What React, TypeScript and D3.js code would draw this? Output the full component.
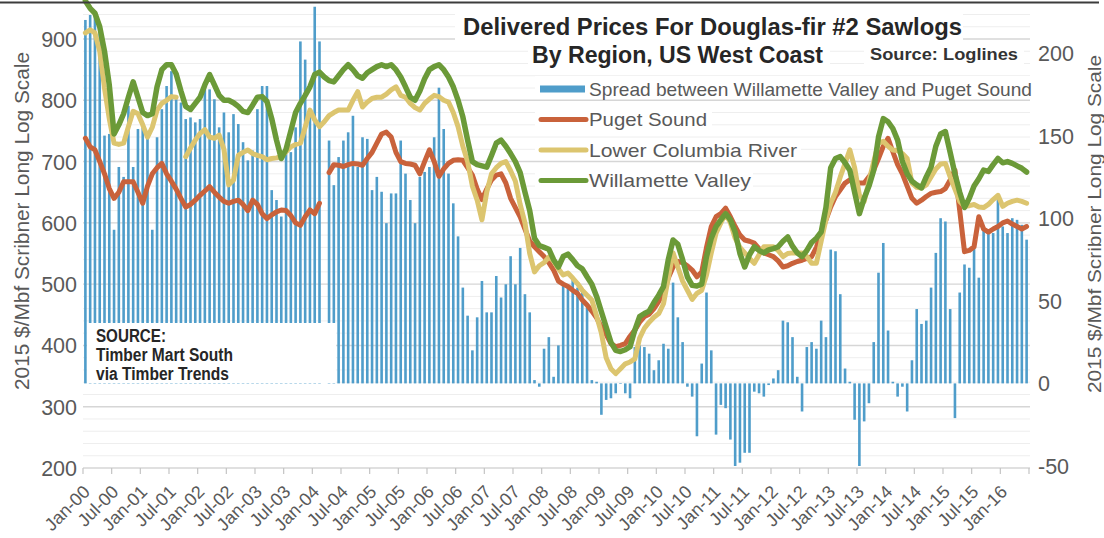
import React from "react";
import * as d3 from "d3";

const W = 1104;
const H = 538;

const tickLabels = [
  "Jan-00","Jul-00","Jan-01","Jul-01","Jan-02","Jul-02","Jan-03","Jul-03","Jan-04","Jul-04",
  "Jan-05","Jul-05","Jan-06","Jul-06","Jan-07","Jul-07","Jan-08","Jul-08","Jan-09","Jul-09",
  "Jan-10","Jul-10","Jan-11","Jul-11","Jan-12","Jul-12","Jan-13","Jul-13","Jan-14","Jul-14",
  "Jan-15","Jul-15","Jan-16"
];

const leftTicks = [200, 300, 400, 500, 600, 700, 800, 900];
const rightTicks = [-50, 0, 50, 100, 150, 200];

// monthly values Jan-2000 .. Jun-2016
const willamette: (number | null)[] = [
  962,950,942,920,880,825,745,760,778,805,830,805,780,775,778,822,850,858,858,843,
  815,790,785,795,805,825,842,825,808,800,800,796,790,782,780,792,805,806,798,770,
  735,705,720,750,780,795,808,822,842,846,838,832,830,840,850,858,850,840,836,845,
  850,855,858,855,858,850,838,822,805,800,815,835,850,855,858,850,838,822,800,773,
  735,700,695,693,691,710,730,735,725,713,700,682,650,620,575,563,560,557,540,528,
  545,549,540,530,525,512,500,480,455,430,405,392,390,393,398,425,447,452,456,470,
  482,496,540,572,565,540,512,498,497,500,545,575,594,605,615,605,585,550,528,548,
  561,555,551,556,558,561,570,577,562,551,545,555,568,575,585,625,690,705,708,698,
  686,650,615,640,660,686,740,770,765,754,735,700,680,668,662,657,675,691,725,745,
  749,715,680,650,625,640,660,672,686,684,695,705,698,700,697,693,689,683
];

const lowerColumbia: (number | null)[] = [
  910,915,910,880,820,770,730,728,730,757,782,778,760,740,756,784,795,800,806,805,
  null,708,722,735,746,752,740,738,743,720,662,670,710,715,719,713,710,708,703,705,
  706,708,716,724,728,730,756,784,768,757,765,775,780,784,784,784,800,814,789,797,
  803,805,805,810,817,822,808,805,795,788,784,795,802,808,806,800,797,780,757,725,
  700,660,637,605,650,680,690,697,700,685,668,630,600,550,520,530,535,544,538,525,
  515,518,510,501,490,482,474,448,420,380,362,354,362,370,373,378,412,428,438,446,
  452,468,510,551,528,505,490,475,485,490,515,551,583,600,615,600,575,560,551,542,
  534,548,561,561,561,555,545,550,551,551,551,545,534,534,570,605,632,650,675,697,
  719,690,645,635,668,700,730,733,725,719,718,713,705,665,658,657,662,675,688,696,
  697,675,655,635,627,628,630,626,625,630,638,645,627,632,635,637,635,632
];

const pugetSound: (number | null)[] = [
  738,724,719,700,680,656,640,650,667,667,667,650,632,660,680,690,697,680,668,655,
  640,626,630,637,645,652,659,650,642,635,632,635,637,630,620,637,630,615,607,613,
  618,621,620,612,600,596,610,621,615,632,null,682,695,694,692,695,697,696,694,705,
  715,730,745,748,740,715,700,697,696,694,680,700,719,700,676,688,697,702,703,702,
  690,678,655,638,655,670,678,680,665,640,625,610,590,570,561,553,545,535,523,505,
  500,496,490,485,474,466,456,445,430,418,403,398,400,403,415,425,438,447,451,460,
  472,485,510,528,537,535,530,523,512,520,560,594,610,615,624,610,594,580,572,570,
  567,558,551,548,545,538,528,530,534,537,539,542,545,560,583,605,626,643,654,665,
  670,668,665,665,675,686,705,725,738,716,695,680,660,640,632,637,643,648,650,651,
  656,670,686,620,553,555,561,610,590,585,590,594,600,603,598,594,590,594
];

const spread: (number | null)[] = [
  220,223,224,212,150,151,93,131,125,168,131,154,155,150,93,149,166,180,189,172,
  170,160,161,158,160,180,178,172,155,164,152,163,157,146,135,141,166,180,180,117,
  111,101,143,140,155,207,196,166,228,207,null,147,120,137,147,152,162,131,149,148,
  117,125,116,97,115,115,147,127,111,97,125,128,131,149,179,154,127,109,89,58,
  41,20,40,62,43,43,65,52,60,77,60,82,54,43,2,-2,21,28,4,23,
  61,58,63,58,57,46,2,1,-19,-10,-9,-6,0,-6,-9,22,23,22,18,8,
  14,24,21,61,40,25,-2,-8,-32,12,55,20,-31,-13,-15,-34,-50,-48,-42,-42,
  -5,-6,-8,-1,3,8,38,37,28,4,-17,22,25,21,38,28,81,80,54,9,
  1,-22,-50,-23,-12,25,67,85,32,1,-8,-2,-17,14,45,36,38,58,79,100,
  98,45,-21,55,72,70,82,64,95,91,91,112,95,91,100,99,96,87
];

const legendItems = [
  { label: "Spread between Willamette Valley and Puget Sound", color: "#4f9dca", kind: "bar", len: 443 },
  { label: "Puget Sound", color: "#c9623b", kind: "line", len: 118 },
  { label: "Lower Columbia River", color: "#dcc56f", kind: "line", len: 208 },
  { label: "Willamette Valley", color: "#6b9a38", kind: "line", len: 162 },
];

const FONT = "'Liberation Sans', Arial, Helvetica, sans-serif";

export default function App() {
  const nMonths = 198;
  const x = d3.scaleLinear().domain([0, nMonths]).range([83, 1029]);
  const yL = d3.scaleLinear().domain([200, 900]).range([468, 39]);
  const yR = d3.scaleLinear().domain([-50, 200]).range([466, 53]);

  const mkLine = d3
    .line<number | null>()
    .defined((d) => d != null)
    .x((_, i) => x(i + 0.5))
    .y((d) => yL(d as number));

  const grid: number[] = d3.range(200, 941, 20);
  const barW = 2.6;

  const ticksX = d3.range(0, 34).map((k) => k * 6);

  return (
    <svg
      width={W}
      height={H}
      style={{ position: "absolute", left: 0, top: 0, background: "#fff" }}
      fontFamily={FONT}
    >
      <rect x={0} y={0} width={W} height={H} fill="#fff" />
      {/* gridlines */}
      {grid.map((v) => (
        <line
          key={"g" + v}
          x1={83}
          x2={1030}
          y1={yL(v)}
          y2={yL(v)}
          stroke={v % 100 === 0 ? "#d6d6d6" : "#eeeeee"}
          strokeWidth={v % 100 === 0 ? 1.4 : 1}
        />
      ))}

      {/* white backgrounds behind titles / legend */}
      <rect x={455} y={10} width={508} height={33} fill="#fff" />
      <rect x={528} y={43} width={302} height={27} fill="#fff" />
      <rect x={864} y={44} width={160} height={22} fill="#fff" />
      <rect x={535} y={76} width={501} height={22} fill="#fff" />
      <rect x={535} y={107} width={177} height={22} fill="#fff" />
      <rect x={535} y={138} width={266} height={22} fill="#fff" />
      <rect x={535} y={168} width={218} height={22} fill="#fff" />

      {/* spread bars */}
      {spread.map((v, i) =>
        v == null ? null : (
          <rect
            key={"b" + i}
            x={x(i + 0.5) - barW / 2}
            y={Math.min(yR(v), yR(0))}
            width={barW}
            height={Math.max(0.6, Math.abs(yR(v) - yR(0)))}
            fill="#4f9dca"
          />
        )
      )}

      {/* source box */}
      <rect x={87} y={323} width={249} height={60} fill="#fff" />
      <g
        fontFamily="'Liberation Sans Narrow', 'Arial Narrow', 'Liberation Sans', Arial, sans-serif"
        fontWeight="bold"
        fontSize={18}
        fill="#262626"
      >
        <text x={96} y={342} textLength={70} lengthAdjust="spacingAndGlyphs">SOURCE:</text>
        <text x={96} y={361} textLength={137} lengthAdjust="spacingAndGlyphs">Timber Mart South</text>
        <text x={96} y={380} textLength={133} lengthAdjust="spacingAndGlyphs">via Timber Trends</text>
      </g>

      {/* lines */}
      <path d={mkLine(pugetSound) || ""} fill="none" stroke="#c9623b" strokeWidth={5} strokeLinejoin="round" strokeLinecap="round" />
      <path d={mkLine(lowerColumbia) || ""} fill="none" stroke="#dcc56f" strokeWidth={5} strokeLinejoin="round" strokeLinecap="round" />
      <path d={mkLine(willamette) || ""} fill="none" stroke="#6b9a38" strokeWidth={5.5} strokeLinejoin="round" strokeLinecap="round" />

      {/* x axis ticks and labels */}
      {ticksX.map((m) => (
        <line key={"t" + m} x1={x(m)} x2={x(m)} y1={468} y2={474} stroke="#c4c4c4" strokeWidth={1.2} />
      ))}
      {tickLabels.map((lab, k) => (
        <text
          key={"xl" + k}
          transform={`translate(${x(k * 6) + 8},${493}) rotate(-45)`}
          textAnchor="end"
          fontSize={18}
          fill="#595959"
        >
          {lab}
        </text>
      ))}

      {/* left axis labels */}
      {leftTicks.map((v) => (
        <text key={"l" + v} x={77} y={yL(v) + 1} dominantBaseline="central" textAnchor="end" fontSize={21.5} fill="#595959">
          {v}
        </text>
      ))}
      {/* right axis labels */}
      {rightTicks.map((v) => (
        <text key={"r" + v} x={1038} y={yR(v) + 1} dominantBaseline="central" textAnchor="start" fontSize={21.5} fill="#595959">
          {v}
        </text>
      ))}

      {/* axis titles */}
      <text
        transform={`translate(21.5,221) rotate(-90)`}
        textAnchor="middle"
        dominantBaseline="central"
        fontSize={20}
        fill="#595959"
        textLength={338}
        lengthAdjust="spacingAndGlyphs"
      >
        2015 $/Mbf Scribner Long Log Scale
      </text>
      <text
        transform={`translate(1094.5,224) rotate(-90)`}
        textAnchor="middle"
        dominantBaseline="central"
        fontSize={19}
        fill="#595959"
        textLength={338}
        lengthAdjust="spacingAndGlyphs"
      >
        2015 $/Mbf Scribner Long Log Scale
      </text>

      {/* title */}
      <text x={463} y={35} fontSize={23} fontWeight="bold" fill="#262626" textLength={499} lengthAdjust="spacingAndGlyphs">
        Delivered Prices For Douglas-fir #2 Sawlogs
      </text>
      <text x={532} y={63} fontSize={23} fontWeight="bold" fill="#262626" textLength={291} lengthAdjust="spacingAndGlyphs">
        By Region, US West Coast
      </text>
      <text x={870} y={60} fontSize={17} fontWeight="bold" fill="#333" textLength={148} lengthAdjust="spacingAndGlyphs">
        Source: Loglines
      </text>

      {/* legend */}
      {legendItems.map((it, k) => {
        const cy = 89 + k * 30.5;
        return (
          <g key={"lg" + k}>
            {it.kind === "bar" ? (
              <rect x={540} y={cy - 3.5} width={45} height={7} fill={it.color} />
            ) : (
              <line x1={541} x2={586} y1={cy} y2={cy} stroke={it.color} strokeWidth={5} strokeLinecap="round" />
            )}
            <text x={589} y={cy + 6.5} fontSize={19} fill="#595959" textLength={it.len} lengthAdjust="spacingAndGlyphs">
              {it.label}
            </text>
          </g>
        );
      })}

      {/* top frame */}
      <line x1={0} x2={1099} y1={2.5} y2={2.5} stroke="#3c3c3c" strokeWidth={2} />
    </svg>
  );
}
